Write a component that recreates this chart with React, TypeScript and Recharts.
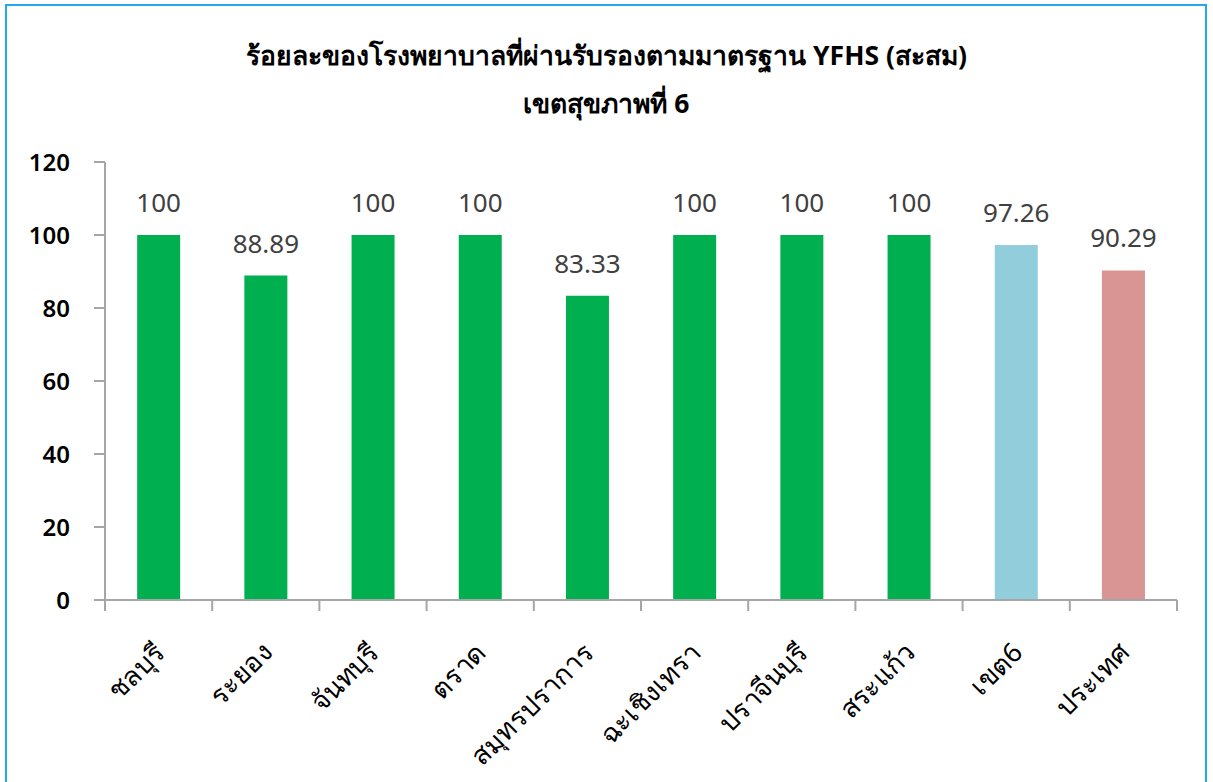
import React from "react"
import { BarChart, Bar, XAxis, YAxis, Cell, LabelList } from "recharts"

const provinces = ["ชลบุรี", "ระยอง", "จันทบุรี", "ตราด", "สมุทรปราการ", "ฉะเชิงเทรา", "ปราจีนบุรี", "สระแก้ว", "เขต6", "ประเทศ"]
const percentages = [100, 88.89, 100, 100, 83.33, 100, 100, 100, 97.26, 90.29]
const yTicks = [0, 20, 40, 60, 80, 100, 120]
const titleLines = ["ร้อยละของโรงพยาบาลที่ผ่านรับรองตามมาตรฐาน YFHS (สะสม)", "เขตสุขภาพที่ 6"]

const barColors = ["#00b050", "#00b050", "#00b050", "#00b050", "#00b050", "#00b050", "#00b050", "#00b050", "#92cddc", "#d99594"]

const data = provinces.map((name, i) => ({ name, value: percentages[i] }))

const W = 1213
const H = 782
const AXIS_W = 105
const RIGHT = 36
const BAND = (W - AXIS_W - RIGHT) / provinces.length
const FONT = '"Noto Sans", sans-serif'
const AXIS_COLOR = "#a6a6a6"

function XTick(props: any) {
  const { x, y, payload, index } = props
  const tx = x + 8
  const ty = y + 54
  return (
    <g>
      <line x1={x - BAND / 2} y1={y} x2={x - BAND / 2} y2={y + 11} stroke={AXIS_COLOR} strokeWidth={2} />
      {index === provinces.length - 1 && (
        <line x1={x + BAND / 2} y1={y} x2={x + BAND / 2} y2={y + 11} stroke={AXIS_COLOR} strokeWidth={2} />
      )}
      <text
        x={tx}
        y={ty}
        textAnchor="end"
        transform={`rotate(-45 ${tx} ${ty})`}
        fontSize={27}
        fontFamily={FONT}
        fill="#000"
      >
        {payload.value}
      </text>
    </g>
  )
}

export default function App() {
  return (
    <div style={{ position: "absolute", left: 0, top: 0, width: W, height: H, overflow: "hidden", background: "#fff", fontFamily: FONT }}>
      <div
        style={{
          position: "absolute",
          left: 5,
          top: 4,
          width: 1202,
          height: 900,
          border: "2px solid #22aaee",
          boxSizing: "border-box",
        }}
      />
      <div style={{ position: "absolute", left: 0, top: 31, width: W, textAlign: "center", fontSize: 26.5, fontWeight: "bold", lineHeight: "48px", color: "#000" }}>
        {titleLines.map((t) => (
          <div key={t}>{t}</div>
        ))}
      </div>
      <div style={{ position: "absolute", left: 0, top: 0 }}>
        <BarChart width={W} height={H} data={data} margin={{ top: 162, right: RIGHT, bottom: 0, left: 0 }} barCategoryGap="30%">
          <YAxis
            width={AXIS_W}
            domain={[0, 120]}
            ticks={yTicks}
            interval={0}
            axisLine={{ stroke: AXIS_COLOR, strokeWidth: 2 }}
            tickLine={{ stroke: AXIS_COLOR, strokeWidth: 2 }}
            tickSize={11}
            tickMargin={24}
            tick={{ fill: "#000", fontSize: 24, fontWeight: 600, fontFamily: FONT }}
          />
          <XAxis
            dataKey="name"
            height={182}
            interval={0}
            axisLine={{ stroke: AXIS_COLOR, strokeWidth: 2 }}
            tickLine={false}
            tickSize={0}
            tickMargin={0}
            tick={(p: any) => <XTick {...p} />}
          />
          <Bar dataKey="value" isAnimationActive={false}>
            {data.map((d, i) => (
              <Cell key={`cell-${i}`} fill={barColors[i]} />
            ))}
            <LabelList dataKey="value" position="top" offset={23} fill="#404040" fontSize={26} fontFamily={FONT} />
          </Bar>
        </BarChart>
      </div>
    </div>
  )
}
